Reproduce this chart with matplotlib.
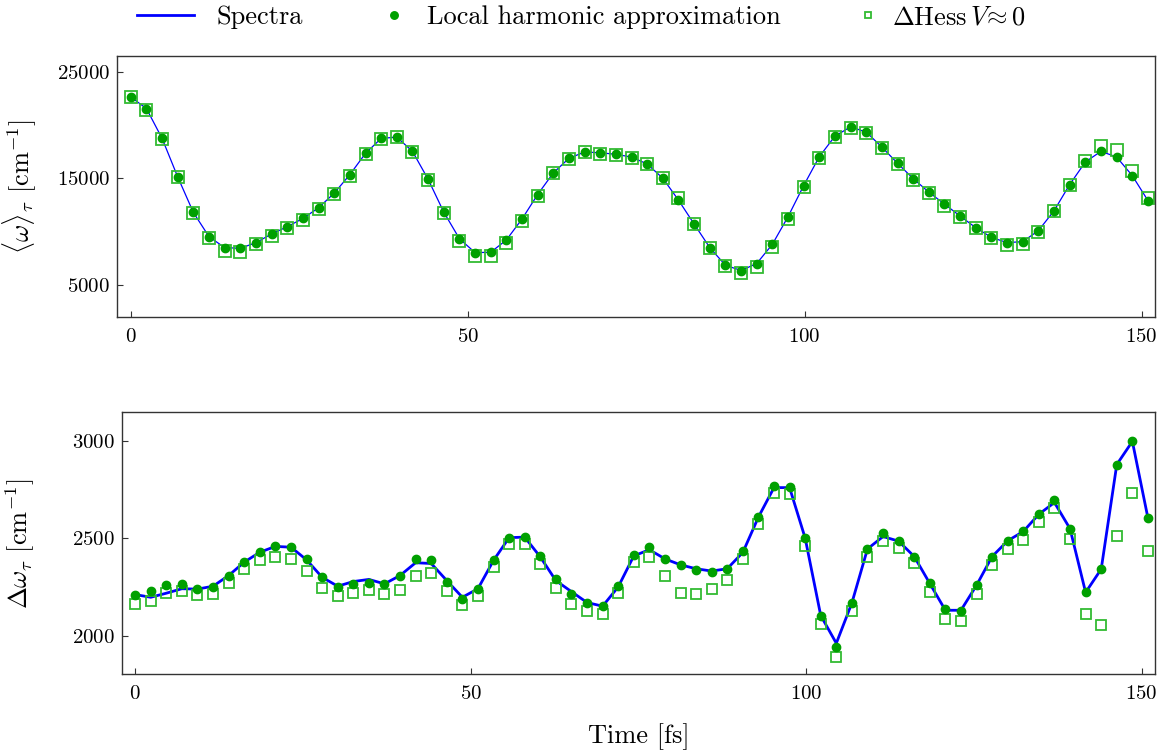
import numpy as np
import matplotlib
matplotlib.use('Agg')
import matplotlib.pyplot as plt

# DATA
dt = 2.3222                     # sampling step in fs (96 a.u.)
n_pts = 66

mean_lha = [22626, 21542, 18738, 15121, 11785, 9513, 8486, 8420, 8953, 9767,
            10448, 11224, 12224, 13598, 15336, 17336, 18738, 18860, 17523, 14906,
            11822, 9327, 8018, 8046, 9200, 11168, 13467, 15495, 16869, 17458,
            17393, 17243, 16991, 16336, 15000, 12944, 10701, 8486, 6832, 6336,
            6990, 8795, 11383, 14308, 17020, 18953, 19822, 19327, 17925, 16400,
            14963, 13692, 12570, 11449, 10354, 9449, 8953, 9047, 10075, 11944,
            14402, 16523, 17523, 16991, 15243, 12906]
mean_hess = [22600, 21450, 18700, 15080, 11700, 9356, 8177, 8083, 8800, 9600,
             10350, 11100, 12150, 13500, 15250, 17250, 18700, 18900, 17450, 14850,
             11750, 9140, 7710, 7710, 8925, 10981, 13342, 15450, 16830, 17450,
             17300, 17150, 16866, 16300, 15050, 13100, 10680, 8486, 6770, 6088,
             6680, 8546, 11168, 14152, 16926, 18890, 19760, 19200, 17800, 16330,
             14870, 13620, 12420, 11380, 10300, 9380, 8766, 8828, 9920, 11880,
             14350, 16650, 17990, 17620, 15710, 13120]
mean_spec = mean_lha

width_lha = [2211, 2228, 2261, 2266, 2241, 2249, 2309, 2381, 2429, 2459,
             2455, 2395, 2302, 2251, 2264, 2273, 2263, 2309, 2393, 2390,
             2278, 2189, 2241, 2388, 2504, 2510, 2411, 2289, 2213, 2170,
             2151, 2253, 2414, 2455, 2395, 2361, 2340, 2325, 2342, 2436,
             2612, 2772, 2766, 2502, 2103, 1940, 2168, 2448, 2526, 2486,
             2407, 2268, 2134, 2127, 2259, 2407, 2488, 2536, 2625, 2696,
             2550, 2222, 2342, 2881, 3000, 2605]
width_hess = [2160, 2177, 2218, 2228, 2210, 2215, 2271, 2342, 2387, 2406,
              2395, 2333, 2246, 2201, 2220, 2235, 2215, 2235, 2306, 2323,
              2230, 2155, 2204, 2354, 2469, 2473, 2370, 2244, 2163, 2127,
              2112, 2218, 2378, 2404, 2308, 2218, 2215, 2239, 2287, 2393,
              2576, 2734, 2728, 2460, 2060, 1888, 2124, 2407, 2486, 2450,
              2375, 2225, 2084, 2076, 2215, 2364, 2447, 2493, 2586, 2656,
              2498, 2112, 2055, 2514, 2736, 2437]
width_spec = [2211, 2197, 2218, 2241, 2239, 2254, 2309, 2378, 2429, 2459,
              2455, 2390, 2300, 2254, 2278, 2289, 2266, 2309, 2375, 2371,
              2283, 2197, 2241, 2387, 2504, 2507, 2405, 2283, 2226, 2170,
              2151, 2250, 2410, 2442, 2395, 2364, 2344, 2332, 2344, 2428,
              2610, 2762, 2762, 2502, 2103, 1960, 2168, 2446, 2510, 2486,
              2407, 2268, 2130, 2130, 2259, 2407, 2488, 2536, 2625, 2685,
              2550, 2222, 2342, 2881, 3000, 2605]

t = np.arange(n_pts) * dt

# STYLE
plt.rcParams['font.family'] = 'serif'
plt.rcParams['font.serif'] = ['cmr10', 'DejaVu Serif']
plt.rcParams['mathtext.fontset'] = 'cm'
plt.rcParams['axes.formatter.use_mathtext'] = True
plt.rcParams['axes.unicode_minus'] = False

c_line = '#0000ff'
c_dot = '#00a000'
c_sq = '#33bb33'

fig = plt.figure(figsize=(11.66, 7.51), dpi=100)
ax1 = fig.add_axes([0.1006, 0.5783, 0.8900, 0.3475])
ax2 = fig.add_axes([0.1044, 0.1021, 0.8862, 0.3489])

# TOP PANEL
ax1.plot(t, mean_spec, color=c_line, lw=0.9, zorder=1)
s1, = ax1.plot(t, mean_hess, 's', mfc='none', mec=c_sq, ms=8, mew=1.3, zorder=2)
d1, = ax1.plot(t, mean_lha, 'o', color=c_dot, ms=6, zorder=3)
ax1.set_ylim(2000, 26500)
ax1.set_yticks([5000, 15000, 25000])
ax1.set_ylabel(r'$\langle\omega\rangle_\tau$ [cm$^{-1}$]', fontsize=19)
ax1.yaxis.set_label_coords(-0.075, 0.5)

# BOTTOM PANEL
l2, = ax2.plot(t, width_spec, color=c_line, lw=2.0, zorder=1)
ax2.plot(t, width_hess, 's', mfc='none', mec=c_sq, ms=7.5, mew=1.3, zorder=2)
ax2.plot(t, width_lha, 'o', color=c_dot, ms=6, zorder=3)
ax2.set_ylim(1800, 3150)
ax2.set_yticks([2000, 2500, 3000])
ax2.set_ylabel(r'$\Delta\omega_\tau$ [cm$^{-1}$]', fontsize=19)
ax2.yaxis.set_label_coords(-0.082, 0.5)
ax2.set_xlabel('Time [fs]', fontsize=19, labelpad=14)

for ax in (ax1, ax2):
    ax.set_xlim(-2, 152)
    ax.set_xticks([0, 50, 100, 150])
    ax.tick_params(direction='in', length=4.5, width=0.8, labelsize=15,
                   top=False, right=False, color='#333333')
    ax.tick_params(axis='x', pad=8)
    ax.tick_params(axis='y', pad=5)
    for sp in ax.spines.values():
        sp.set_color('#333333')
        sp.set_linewidth(1.0)

# LEGEND (three pieces along the top)
yl = 0.977
fig.legend([l2], ['Spectra'], loc='center left', bbox_to_anchor=(0.1172, yl),
           frameon=False, fontsize=19, handlelength=2.18, handletextpad=0.85,
           borderpad=0, borderaxespad=0)
fig.legend([d1], ['Local harmonic approximation'], loc='center left',
           bbox_to_anchor=(0.3266, yl), frameon=False, fontsize=19, handlelength=1.0,
           handletextpad=0.75, borderpad=0, borderaxespad=0, markerscale=0.9)
fig.legend([s1], [r'$\Delta\mathrm{Hess}\,V\!\approx 0$'], loc='center left',
           bbox_to_anchor=(0.7376, yl), frameon=False, fontsize=19, handlelength=0.6,
           handletextpad=0.6, borderpad=0, borderaxespad=0, markerscale=0.6)

plt.savefig('out.png', dpi=100)
plt.close()
